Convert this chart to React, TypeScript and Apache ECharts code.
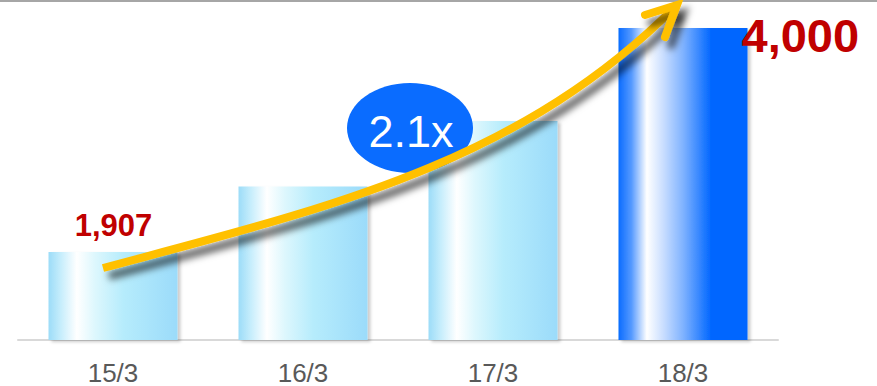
import React, { useEffect, useRef } from "react";
import * as echarts from "echarts";

const categories = ["15/3", "16/3", "17/3", "18/3"];
const values = [1907, 2520, 3130, 4000];
const labelledIndexes = [0, 3];
const multiplierText = "2.1x";

const lightGrad = new echarts.graphic.LinearGradient(0, 0, 1, 0, [
  { offset: 0, color: "#9cdcf8" },
  { offset: 0.1, color: "#c8eefc" },
  { offset: 0.22, color: "#ffffff" },
  { offset: 0.36, color: "#ddf7fd" },
  { offset: 0.58, color: "#b6ecfc" },
  { offset: 1, color: "#9bdbfa" },
]);
const blueGrad = new echarts.graphic.LinearGradient(0, 0, 1, 0, [
  { offset: 0, color: "#0a6cff" },
  { offset: 0.1, color: "#5599ff" },
  { offset: 0.22, color: "#ffffff" },
  { offset: 0.35, color: "#c8ddff" },
  { offset: 0.5, color: "#80b3ff" },
  { offset: 0.72, color: "#0066ff" },
  { offset: 1, color: "#0066ff" },
]);

export default function App() {
  const ref = useRef<HTMLDivElement>(null);
  useEffect(() => {
    if (!ref.current) return;
    const chart = echarts.init(ref.current, undefined, { renderer: "svg" });
    const data = values.map((v, i) => {
      const last = i === values.length - 1;
      const item: any = {
        value: v,
        itemStyle: {
          color: last ? blueGrad : lightGrad,
          shadowBlur: 3,
          shadowColor: "rgba(0,0,0,0.2)",
          shadowOffsetX: 3,
          shadowOffsetY: 2,
        },
      };
      if (labelledIndexes.includes(i)) {
        item.label = last
          ? {
              show: true,
              position: [123, 7],
              align: "left",
              verticalAlign: "middle",
              fontSize: 47,
              fontWeight: "bold",
              color: "#c00000",
              fontFamily: "Liberation Sans, Arial, sans-serif",
              formatter: (p: any) => p.value.toLocaleString("en-US"),
            }
          : {
              show: true,
              position: [65, -27],
              align: "center",
              verticalAlign: "middle",
              fontSize: 31,
              fontWeight: "bold",
              color: "#c00000",
              fontFamily: "Liberation Sans, Arial, sans-serif",
              formatter: (p: any) => p.value.toLocaleString("en-US"),
            };
      }
      return item;
    });
    const arrowShadow = {
      shadowBlur: 7,
      shadowColor: "rgba(0,0,0,0.6)",
      shadowOffsetX: 6,
      shadowOffsetY: 8,
    };
    chart.setOption({
      animation: false,
      grid: { left: 18, right: 99, top: 28, bottom: 42 },
      xAxis: {
        type: "category",
        data: categories,
        axisTick: { show: false },
        axisLine: { lineStyle: { color: "#d9d9d9", width: 2 } },
        axisLabel: {
          fontSize: 26,
          color: "#595959",
          margin: 20,
          fontFamily: "Liberation Sans, Arial, sans-serif",
        },
      },
      yAxis: {
        type: "value",
        min: 1085,
        max: 4000,
        show: false,
        splitLine: { show: false },
      },
      series: [
        {
          type: "bar",
          data,
          barWidth: 129,
          z: 2,
        },
      ],
      graphic: [
        {
          type: "line",
          shape: { x1: 0, y1: 1, x2: 877, y2: 1 },
          style: { stroke: "#a6a6a6", lineWidth: 2 },
          z: 10,
        },
        {
          type: "ellipse",
          shape: { cx: 410, cy: 128, rx: 63, ry: 45 },
          style: { fill: "#0a6cff" },
          z: 20,
        },
        {
          type: "text",
          x: 411,
          y: 131,
          style: {
            text: multiplierText,
            fill: "#ffffff",
            fontSize: 45,
            fontFamily: "Liberation Sans, Arial, sans-serif",
            align: "center",
            verticalAlign: "middle",
          },
          z: 21,
        },
        {
          type: "bezierCurve",
          shape: {
            x1: 103, y1: 268,
            cpx1: 323, cpy1: 209,
            cpx2: 517, cpy2: 165,
            x2: 675, y2: 7,
          },
          style: { stroke: "#ffc000", lineWidth: 8, fill: null, lineCap: "butt", ...arrowShadow },
          z: 30,
        },
        {
          type: "polyline",
          shape: { points: [[645, 15], [677, 5], [665, 37]] },
          style: { stroke: "#ffc000", lineWidth: 8, fill: null, lineCap: "round", lineJoin: "miter", ...arrowShadow },
          z: 30,
        },
      ],
    });
    return () => chart.dispose();
  }, []);
  return (
    <div
      ref={ref}
      style={{ position: "fixed", left: 0, top: 0, width: 877, height: 386, background: "#ffffff" }}
    />
  );
}
